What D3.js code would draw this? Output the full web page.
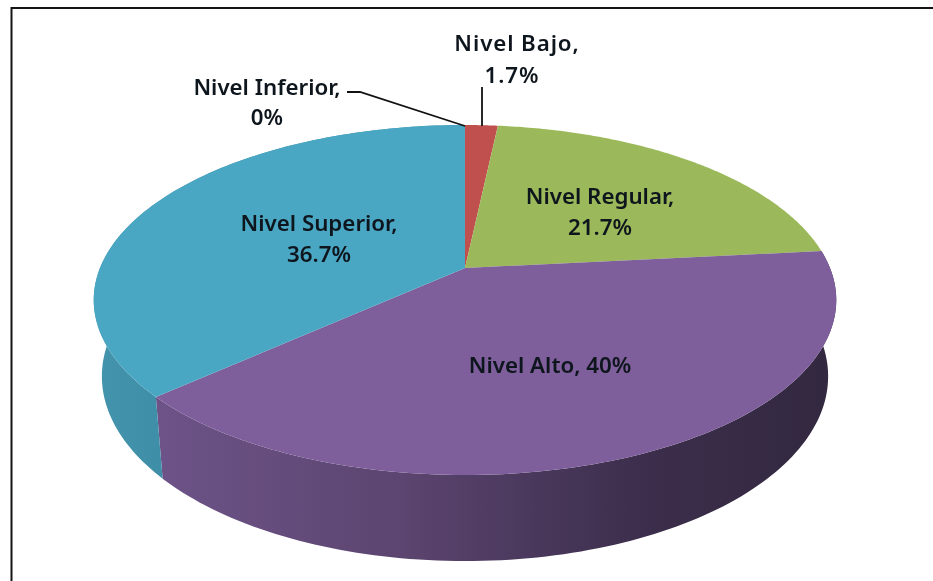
<!DOCTYPE html>
<html>
<head>
<meta charset="utf-8">
<script src="https://cdn.jsdelivr.net/npm/d3@7"></script>
<style>
  html, body { margin: 0; padding: 0; background: #fff; }
  svg { display: block; }
  text { font-family: "Noto Sans", sans-serif; font-weight: 600; font-size: 22.3px; fill: #10141c; }
</style>
</head>
<body>
<div id="pie_chart"></div>
<script>
  const categories = ['Nivel Inferior', 'Nivel Bajo', 'Nivel Regular', 'Nivel Alto', 'Nivel Superior'];
  const values = [0, 1.7, 21.7, 40, 36.7];
  const topColors = ['#4f81bd', '#bf504e', '#9bb95a', '#7e5f9b', '#4aa7c3'];

  const width = 933, height = 581;
  const svg = d3.select('#pie_chart')
    .append('svg')
    .attr('width', width)
    .attr('height', height);

  // frame of the chart area, runs off the picture at the right and bottom
  svg.append('path')
    .attr('d', 'M11.5,581V8H933')
    .attr('fill', 'none')
    .attr('stroke', '#141414')
    .attr('stroke-width', 2);

  // perspective of the disc: a unit circle goes through a projective map
  const persp = -0.183;
  const topFace = {k: 365, a: 120.1, b: 268};
  const baseFace = {k: 357, a: 115.9, b: 342.5};
  const cx = 465;

  const project = (angle, face) => {
    const u = Math.sin(angle), v = -Math.cos(angle);
    const w = 1 + persp * v;
    return [cx + face.k * u / w, (face.a * v + face.b) / w];
  };

  const pie = d3.pie().sort(null).value(d => d.value);
  const slices = pie(categories.map((name, i) => ({name, value: values[i], color: topColors[i]})));

  const line = d3.line();
  const arcPoints = (a0, a1, face) => d3.range(0, 121).map(i => project(a0 + (a1 - a0) * i / 120, face));

  // wall gradients
  const defs = svg.append('defs');
  const wallStops = {
    'Nivel Alto': [[155, '#6d5388'], [400, '#5c4570'], [640, '#3c2e4c'], [836, '#32283f']],
    'Nivel Superior': [[94, '#4594ae'], [163, '#3e8ea7']]
  };
  Object.entries(wallStops).forEach(([name, stops], i) => {
    const g = defs.append('linearGradient')
      .attr('id', 'wall' + i)
      .attr('gradientUnits', 'userSpaceOnUse')
      .attr('x1', stops[0][0]).attr('x2', stops[stops.length - 1][0])
      .attr('y1', 0).attr('y2', 0);
    stops.forEach(s => {
      g.append('stop')
        .attr('offset', (s[0] - stops[0][0]) / (stops[stops.length - 1][0] - stops[0][0]))
        .attr('stop-color', s[1]);
    });
  });

  // soft edge on the type, the reference is an enlarged screenshot
  defs.append('filter').attr('id', 'soft')
    .append('feGaussianBlur').attr('stdDeviation', 0.45);

  // side walls swept as small quads so the silhouette gets its straight tangent
  const wallPath = d => {
    const t = arcPoints(d.startAngle, d.endAngle, topFace);
    const b = arcPoints(d.startAngle, d.endAngle, baseFace);
    return d3.range(0, t.length - 1)
      .map(i => line([t[i], t[i + 1], b[i + 1], b[i]]) + 'Z')
      .join('');
  };
  const wallNames = Object.keys(wallStops);
  svg.append('g')
    .selectAll('path')
    .data(slices.filter(d => wallNames.includes(d.data.name)))
    .join('path')
      .attr('d', wallPath)
      .attr('fill', d => `url(#wall${wallNames.indexOf(d.data.name)})`);

  // top face
  svg.append('g')
    .selectAll('path')
    .data(slices.filter(d => d.value > 0))
    .join('path')
      .attr('d', d => line([[cx, topFace.b]].concat(arcPoints(d.startAngle, d.endAngle, topFace))) + 'Z')
      .attr('fill', d => d.data.color);

  // leader lines
  const leaders = [
    [[347, 92], [360, 92], [465, 126]],
    [[482, 87], [482, 126]]
  ];
  svg.append('g')
    .selectAll('path')
    .data(leaders)
    .join('path')
      .attr('d', d => line(d))
      .attr('fill', 'none')
      .attr('stroke', '#111')
      .attr('stroke-width', 1.8);

  // data labels, one or two rows
  const labelRows = [
    {xs: [267, 267], ys: [95, 125], rows: [`${categories[0]},`, `${values[0]}%`]},
    {xs: [517, 512], ys: [51, 83], spacing: 0.9, rows: [`${categories[1]},`, `${values[1]}%`]},
    {xs: [600, 600], ys: [204, 235], rows: [`${categories[2]},`, `${values[2]}%`]},
    {xs: [550], ys: [373], rows: [`${categories[3]}, ${values[3]}%`]},
    {xs: [319, 319], ys: [231, 262], rows: [`${categories[4]},`, `${values[4]}%`]}
  ];
  const labels = svg.append('g').attr('filter', 'url(#soft)');
  labelRows.forEach(l => {
    l.rows.forEach((row, i) => {
      labels.append('text')
        .attr('x', l.xs[i])
        .attr('y', l.ys[i])
        .attr('text-anchor', 'middle')
        .style('letter-spacing', l.spacing ? l.spacing + 'px' : null)
        .text(row);
    });
  });
</script>
</body>
</html>
